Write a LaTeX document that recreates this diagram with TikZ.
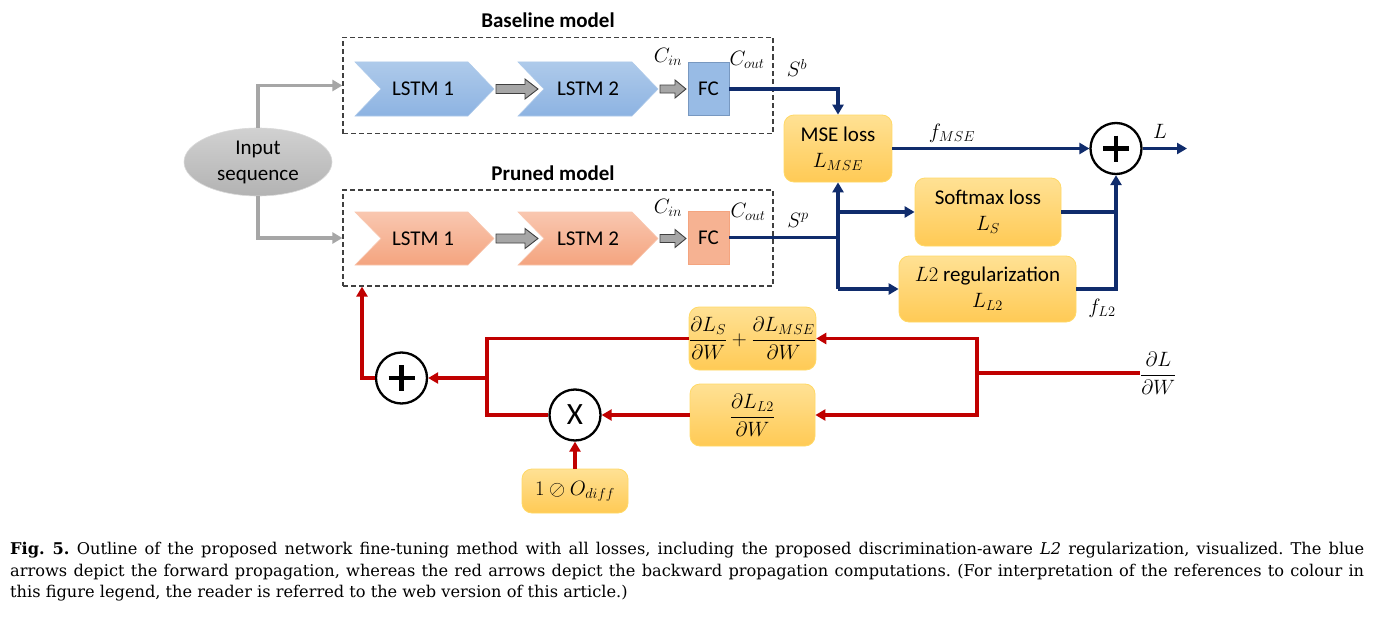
\documentclass[tikz,border=0pt]{standalone}
\usepackage{amsmath}
\usepackage{fontspec}
\setmainfont{DejaVu Serif}
\newfontfamily\calib{Carlito}
\usetikzlibrary{arrows.meta,calc,shapes.geometric}
\definecolor{navy}{HTML}{102C6C}
\definecolor{dred}{HTML}{C00000}
\definecolor{bluetop}{HTML}{AECAEA}
\definecolor{bluebot}{HTML}{8DB3E2}
\definecolor{ortop}{HTML}{F9C7B0}
\definecolor{orbot}{HTML}{F4A47F}
\definecolor{yeltop}{HTML}{FFE194}
\definecolor{yelbot}{HTML}{FFCA55}
\definecolor{yelbord}{HTML}{FFD966}
\definecolor{gline}{HTML}{A6A6A6}
\tikzset{
  every node/.style={font=\calib\fontsize{21}{25}\selectfont, inner sep=0pt},
  bluechev/.style={top color=bluetop, bottom color=bluebot, draw=bluetop, line width=0.6pt},
  orchev/.style={top color=ortop, bottom color=orbot, draw=ortop, line width=0.6pt},
  fcblue/.style={fill=bluebot!90!white, draw=bluebot!85!black, line width=0.6pt, minimum width=41pt, minimum height=53pt},
  fcor/.style={fill=orbot!85!white, draw=orbot, line width=0.6pt, minimum width=41pt, minimum height=53pt},
  modelbox/.style={draw=black!75, dash pattern=on 5pt off 3pt, line width=1.2pt, minimum width=430pt, minimum height=96pt},
  lossbox/.style={rounded corners=10pt, top color=yeltop, bottom color=yelbot, draw=yelbord, line width=0.8pt, align=center},
  opcirc/.style={circle, draw=black, line width=2.3pt, minimum size=51pt, fill=white},
  plussign/.style={path picture={\draw[line width=4.5pt] ($(path picture bounding box.center)+(-13,0)$) -- ++(26,0);
      \draw[line width=4.5pt] ($(path picture bounding box.center)+(0,-13)$) -- ++(0,26);}},
  blockarr/.style={fill=gline, draw=black!75, line width=0.9pt},
  fwd/.style={draw=navy, line width=3.3pt},
  fwdarr/.style={fwd, -{Triangle[length=10pt,width=11pt]}},
  bwd/.style={draw=dred, line width=3.3pt},
  bwdarr/.style={bwd, -{Triangle[length=10pt,width=11pt]}},
  inarr/.style={draw=gline, line width=3.3pt, -{Triangle[length=10pt,width=11pt]}},
  mlab/.style={font=\fontsize{22}{26}\selectfont},
  title/.style={font=\calib\bfseries\fontsize{21}{25}\selectfont},
}
\begin{document}
\begin{tikzpicture}[x=1pt,y=-1pt]
\useasboundingbox (0,0) rectangle (1376,618);
\fill[white] (0,0) rectangle (1376,618);

% titles
\node[title] (tb) at (548,20) {Baseline model};
\node[title] (tp) at (553,173) {Pruned model};

% model boxes
\node[modelbox] (bbox) at (558,85.5) {};
\node[modelbox] (pbox) at (558,238) {};

% input ellipse
\node[ellipse, minimum width=148pt, minimum height=68pt, top color=black!18, bottom color=black!30, draw=black!15, line width=0.6pt, align=center] (in) at (258,162) {Input\\[1pt]sequence};
\draw[inarr] (in.north) |- (bbox.west);
\draw[inarr] (in.south) |- (pbox.west);

% baseline chevrons
\draw[bluechev] (355,62) -- (468,62) -- (494,89) -- (468,116) -- (355,116) -- (381,89) -- cycle;
\node (bl1) at (423,89) {LSTM 1};
\draw[bluechev] (518,62) -- (632,62) -- (658,89) -- (632,116) -- (518,116) -- (544,89) -- cycle;
\node (bl2) at (588,89) {LSTM 2};
\draw[blockarr] (496,84.5) -- (525,84.5) -- (525,79) -- (538,89) -- (525,99) -- (525,93.5) -- (496,93.5) -- cycle;
\draw[blockarr] (660,85) -- (675,85) -- (675,80) -- (686,89) -- (675,98) -- (675,93) -- (660,93) -- cycle;
\node[fcblue] (fcb) at (708.5,89) {FC};
\node[mlab] (cinb) at (668,57) {$C_{in}$};
\node[mlab] (coutb) at (747,60) {$C_{out}$};

% pruned chevrons
\draw[orchev] (355,212) -- (468,212) -- (494,238.5) -- (468,265) -- (355,265) -- (381,238.5) -- cycle;
\node (pl1) at (423,238.5) {LSTM 1};
\draw[orchev] (518,212) -- (632,212) -- (658,238.5) -- (632,265) -- (518,265) -- (544,238.5) -- cycle;
\node (pl2) at (588,238.5) {LSTM 2};
\draw[blockarr] (496,234) -- (525,234) -- (525,228.5) -- (538,238.5) -- (525,248.5) -- (525,243) -- (496,243) -- cycle;
\draw[blockarr] (660,234.5) -- (675,234.5) -- (675,229.5) -- (686,238.5) -- (675,247.5) -- (675,242.5) -- (660,242.5) -- cycle;
\node[fcor] (fcp) at (708.5,237.5) {FC};
\node[mlab] (cinp) at (668,208) {$C_{in}$};
\node[mlab] (coutp) at (748,212) {$C_{out}$};

% loss boxes
\node[lossbox, minimum width=108pt, minimum height=67pt] (mse) at (838,148.5) {MSE loss\\[1pt]$L_{MSE}$};
\node[lossbox, minimum width=146pt, minimum height=68pt] (soft) at (988,212) {Softmax loss\\[1pt]$L_S$};
\node[lossbox, minimum width=177pt, minimum height=66pt] (l2) at (987.5,289) {$L2$ regularization\\[1pt]$L_{L2}$};
\node[opcirc, plussign] (p1) at (1116,148.5) {};
\coordinate (out) at (1187,148.5);

% forward connections
\draw[fwdarr] (fcb.east) -| (mse.north);
\coordinate (jp) at (838,237.5);
\coordinate (js) at (838,212);
\coordinate (jl) at (838,289);
\draw[fwd] (fcp.east) -- (jp);
\draw[fwdarr] (jl) -- (mse.south);
\draw[fwdarr] (js) -- (soft.west);
\draw[fwdarr] (jl) -- (l2.west);
\draw[fwdarr] (mse.east) -- (p1.west);
\draw[fwd] (soft.east) -- (soft.east -| p1.south);
\draw[fwdarr] (l2.east) -| (p1.south);
\draw[fwdarr] (p1.east) -- (out);
\node[mlab] (sb) at (797,68) {$S^b$};
\node[mlab] (sp) at (798,220) {$S^p$};
\node[mlab] (fmse) at (952,133) {$f_{MSE}$};
\node[mlab] (lab) at (1160,131) {$L$};
\node[mlab] (fl2) at (1102,308) {$f_{L2}$};

% backward part
\node[lossbox, minimum width=125pt, minimum height=63pt] (d1) at (752.5,338.5) {$\dfrac{\partial L_S}{\partial W}+\dfrac{\partial L_{MSE}}{\partial W}$};
\node[lossbox, minimum width=125pt, minimum height=62pt] (d2) at (752.5,415) {$\dfrac{\partial L_{L2}}{\partial W}$};
\node[lossbox, minimum width=106pt, minimum height=44pt] (od) at (575,491) {$1\oslash O_{diff}$};
\node[opcirc] (x) at (575,415) {\fontsize{31}{34}\selectfont X};
\node[opcirc, plussign] (p2) at (401.5,378) {};
\node[mlab, anchor=west] (dl) at (1140,373) {$\dfrac{\partial L}{\partial W}$};
\coordinate (rj) at (977,373);
\coordinate (lj) at (487,378);
\draw[bwd] (dl.west) -- (rj);
\draw[bwdarr] (rj) |- (d1.east);
\draw[bwdarr] (rj) |- (d2.east);
\draw[bwdarr] (d2.west) -- (x.east);
\draw[bwdarr] (od.north) -- (x.south);
\draw[bwd] (x.west) -| (lj) |- (d1.west);
\draw[bwdarr] (lj) -- (p2.east);
\draw[bwdarr] (p2.west) -| ([xshift=-196pt]pbox.south);

% caption
\node[anchor=north west, font=\frenchspacing\fontsize{16.2}{21.7}\selectfont] (cap) at (10,542) {\parbox{1354pt}{\textbf{Fig. 5.} Outline of the proposed network fine-tuning method with all losses, including the proposed discrimination-aware \textit{L2} regularization, visualized. The blue\linebreak arrows depict the forward propagation, whereas the red arrows depict the backward propagation computations. (For interpretation of the references to colour in\linebreak this figure legend, the reader is referred to the web version of this article.)}};
\end{tikzpicture}
\end{document}
